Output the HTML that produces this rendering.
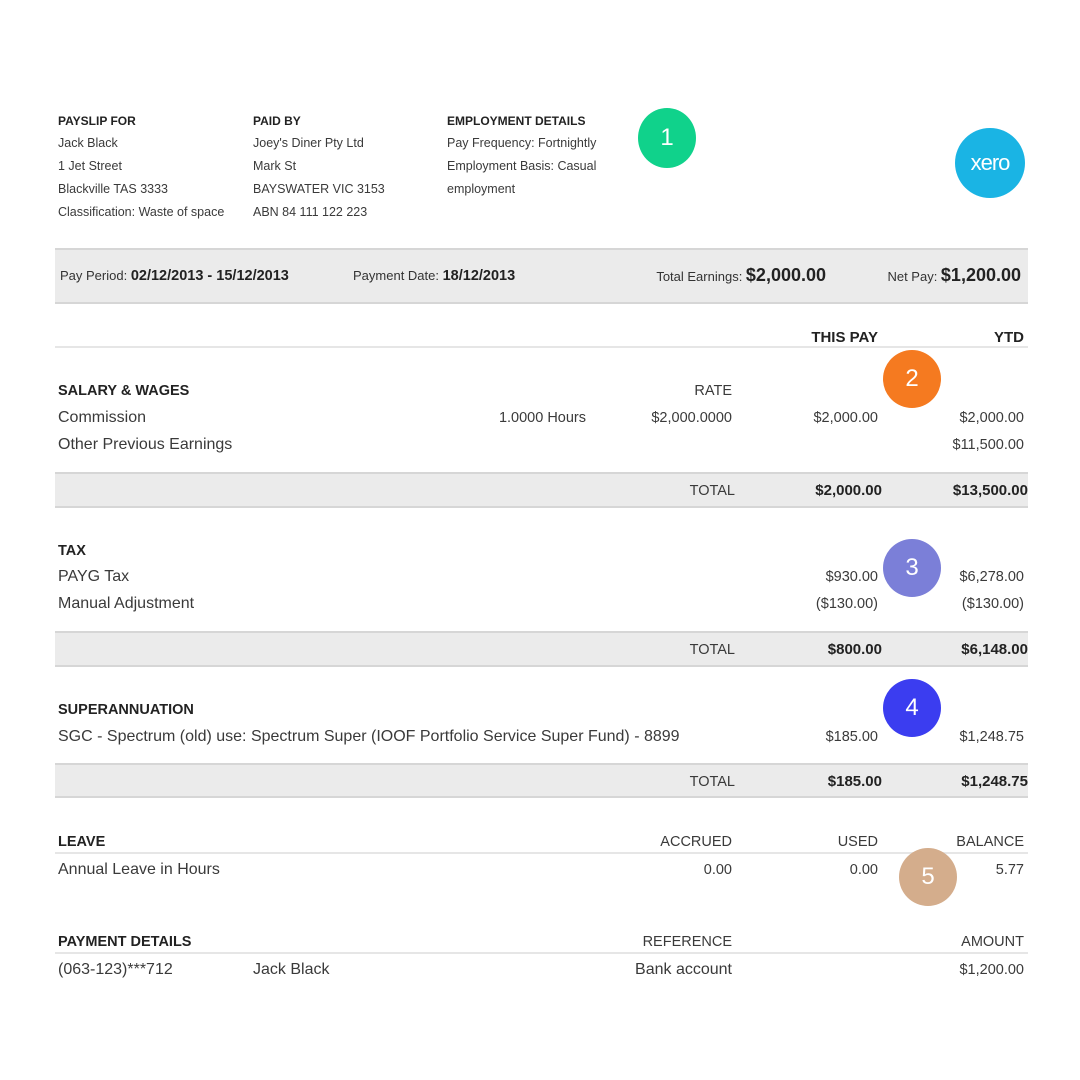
<!DOCTYPE html>
<html><head><meta charset="utf-8"><style>
body{margin:0;width:1080px;height:1080px;background:#fff;position:relative;overflow:hidden;font-family:"Liberation Sans",sans-serif;color:#333}
.t{position:absolute;white-space:nowrap;line-height:1}
.s{font-size:12.5px;color:#3a3a3a}
.sb{font-size:12px;font-weight:bold;color:#222}
.m{font-size:16px;color:#3a3a3a}
.mr{font-size:14.5px;color:#3a3a3a}
.h{font-size:14.5px;font-weight:bold;color:#222}
.b{font-size:15px;font-weight:bold;color:#222}
.band{position:absolute;left:55px;width:973px;background:#ebebeb;border-top:2px solid #d6d6d6;border-bottom:2px solid #d6d6d6}
.line{position:absolute;left:55px;width:973px;height:2px;background:#e6e6e6}
.c{position:absolute;border-radius:50%;color:#fff;font-size:24px;display:flex;align-items:center;justify-content:center}
</style></head><body>
<div class="t sb" style="left:58px;top:115px">PAYSLIP FOR</div>
<div class="t s" style="left:58px;top:137px">Jack Black</div>
<div class="t s" style="left:58px;top:160px">1 Jet Street</div>
<div class="t s" style="left:58px;top:183px">Blackville TAS 3333</div>
<div class="t s" style="left:58px;top:206px">Classification: Waste of space</div>
<div class="t sb" style="left:253px;top:115px">PAID BY</div>
<div class="t s" style="left:253px;top:137px">Joey's Diner Pty Ltd</div>
<div class="t s" style="left:253px;top:160px">Mark St</div>
<div class="t s" style="left:253px;top:183px">BAYSWATER VIC 3153</div>
<div class="t s" style="left:253px;top:206px">ABN 84 111 122 223</div>
<div class="t sb" style="left:447px;top:115px">EMPLOYMENT DETAILS</div>
<div class="t s" style="left:447px;top:137px">Pay Frequency: Fortnightly</div>
<div class="t s" style="left:447px;top:160px">Employment Basis: Casual</div>
<div class="t s" style="left:447px;top:183px">employment</div>
<div class="c" style="left:638px;top:108px;width:58px;height:60px;background:#10d28b">1</div>
<div class="c" style="left:955px;top:128px;width:70px;height:70px;background:#1ab4e4;font-size:22px;letter-spacing:-1px">xero</div>

<div class="band" style="top:248px;height:52px"></div>
<div class="t" style="left:60px;top:269px;font-size:13px;color:#333">Pay Period: <b style="font-size:14.5px;color:#222">02/12/2013 - 15/12/2013</b></div>
<div class="t" style="left:353px;top:269px;font-size:13px;color:#333">Payment Date: <b style="font-size:14.5px;color:#222">18/12/2013</b></div>
<div class="t" style="right:254px;top:266px;font-size:13px;color:#333">Total Earnings: <b style="font-size:18px;color:#222">$2,000.00</b></div>
<div class="t" style="right:59px;top:266px;font-size:13px;color:#333">Net Pay: <b style="font-size:18px;color:#222">$1,200.00</b></div>

<div class="t b" style="right:202px;top:330px">THIS PAY</div>
<div class="t b" style="right:56px;top:330px">YTD</div>
<div class="line" style="top:346px"></div>

<div class="t h" style="left:58px;top:384px">SALARY &amp; WAGES</div>
<div class="t mr" style="right:348px;top:384px">RATE</div>
<div class="t m" style="left:58px;top:410px">Commission</div>
<div class="t mr" style="right:494px;top:411px">1.0000 Hours</div>
<div class="t mr" style="right:348px;top:411px">$2,000.0000</div>
<div class="t mr" style="right:202px;top:411px">$2,000.00</div>
<div class="t mr" style="right:56px;top:411px">$2,000.00</div>
<div class="t m" style="left:58px;top:437px">Other Previous Earnings</div>
<div class="t mr" style="right:56px;top:438px">$11,500.00</div>
<div class="c" style="left:883px;top:350px;width:58px;height:58px;background:#f57a20">2</div>
<div class="band" style="top:472px;height:32px"></div>
<div class="t mr" style="right:345px;top:484px">TOTAL</div>
<div class="t b" style="right:198px;top:483px">$2,000.00</div>
<div class="t b" style="right:52px;top:483px">$13,500.00</div>

<div class="t h" style="left:58px;top:544px">TAX</div>
<div class="t m" style="left:58px;top:569px">PAYG Tax</div>
<div class="t mr" style="right:202px;top:570px">$930.00</div>
<div class="t mr" style="right:56px;top:570px">$6,278.00</div>
<div class="t m" style="left:58px;top:596px">Manual Adjustment</div>
<div class="t mr" style="right:202px;top:597px">($130.00)</div>
<div class="t mr" style="right:56px;top:597px">($130.00)</div>
<div class="c" style="left:883px;top:539px;width:58px;height:58px;background:#7b7fd8">3</div>
<div class="band" style="top:631px;height:32px"></div>
<div class="t mr" style="right:345px;top:643px">TOTAL</div>
<div class="t b" style="right:198px;top:642px">$800.00</div>
<div class="t b" style="right:52px;top:642px">$6,148.00</div>

<div class="t h" style="left:58px;top:703px">SUPERANNUATION</div>
<div class="t m" style="left:58px;top:729px">SGC - Spectrum (old) use: Spectrum Super (IOOF Portfolio Service Super Fund) - 8899</div>
<div class="t mr" style="right:202px;top:730px">$185.00</div>
<div class="t mr" style="right:56px;top:730px">$1,248.75</div>
<div class="c" style="left:883px;top:679px;width:58px;height:58px;background:#3b3df0">4</div>
<div class="band" style="top:763px;height:31px"></div>
<div class="t mr" style="right:345px;top:775px">TOTAL</div>
<div class="t b" style="right:198px;top:774px">$185.00</div>
<div class="t b" style="right:52px;top:774px">$1,248.75</div>

<div class="t h" style="left:58px;top:835px">LEAVE</div>
<div class="t mr" style="right:348px;top:835px">ACCRUED</div>
<div class="t mr" style="right:202px;top:835px">USED</div>
<div class="t mr" style="right:56px;top:835px">BALANCE</div>
<div class="line" style="top:852px"></div>
<div class="t m" style="left:58px;top:862px">Annual Leave in Hours</div>
<div class="t mr" style="right:348px;top:863px">0.00</div>
<div class="t mr" style="right:202px;top:863px">0.00</div>
<div class="t mr" style="right:56px;top:863px">5.77</div>
<div class="c" style="left:899px;top:848px;width:58px;height:58px;background:#d4ad8c">5</div>

<div class="t h" style="left:58px;top:935px">PAYMENT DETAILS</div>
<div class="t mr" style="right:348px;top:935px">REFERENCE</div>
<div class="t mr" style="right:56px;top:935px">AMOUNT</div>
<div class="line" style="top:952px"></div>
<div class="t m" style="left:58px;top:962px">(063-123)***712</div>
<div class="t m" style="left:253px;top:962px">Jack Black</div>
<div class="t m" style="right:348px;top:962px">Bank account</div>
<div class="t mr" style="right:56px;top:963px">$1,200.00</div>
</body></html>
